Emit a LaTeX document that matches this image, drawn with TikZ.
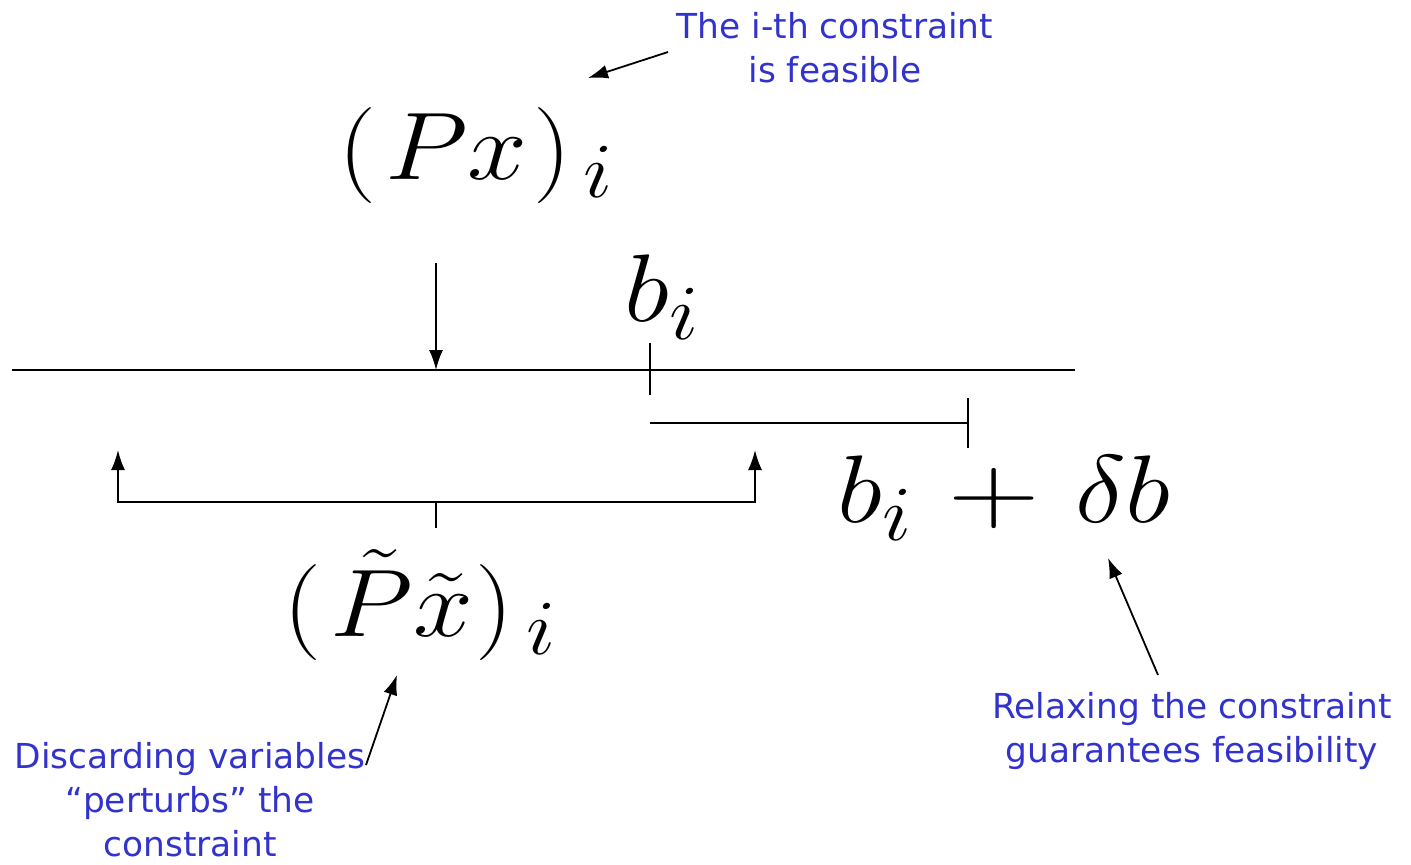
\RequirePackage{fix-cm}
\documentclass[tikz,border=0pt]{standalone}
\usepackage{graphicx}
\usepackage{fontspec}
\newfontfamily\notefont{DejaVu Sans}
\usetikzlibrary{arrows.meta}
\definecolor{noteblue}{RGB}{50,50,205}
\DeclareMathSizes{48}{48}{39}{30}
\tikzset{
  note/.style={text=noteblue,font=\notefont\fontsize{17.2}{22}\selectfont,align=center,inner sep=0pt},
  big/.style={font=\fontsize{48}{52}\selectfont,inner sep=0pt,xscale=1.12},
  ptr/.style={-{Latex[length=10pt,width=7pt]},line width=0.9pt}
}
\newcommand\gap[1]{\mkern#1mu}
\newcommand\bigplus{\mathbin{\scalebox{1.18}[1]{$+$}}}
\begin{document}
\begin{tikzpicture}[x=0.5pt,y=-0.5pt,line width=0.9pt]
\useasboundingbox (0,0) rectangle (1411,864);
% the line and b_i
\coordinate (L) at (12,370); \coordinate (R) at (1075,370);
\draw (L)--(R);
\node[big] (px) at (476,155) {$(\gap{1.5}Px\gap{1})_{\gap{2.5}i}$};
\coordinate (pxa) at (436,263); \coordinate (pxb) at (436,370);
\draw[ptr] (pxa)--(pxb);
\node[big] (bi) at (662,297) {$b_{i}$};
\coordinate (bitop) at (650,343); \coordinate (bibot) at (650,395);
\draw (bitop)--(bibot);
% the shift by delta b
\coordinate (da) at (650,423); \coordinate (db) at (968,423);
\draw (da)--(db); \draw (968,398)--(968,448);
\node[big] (bd) at (1004,498) {$b_{i}\gap{2}\bigplus\gap{2}\delta b$};
% the perturbed value
\coordinate (lt) at (118,450); \coordinate (lb) at (118,502);
\coordinate (rb) at (755,502); \coordinate (rt) at (755,450);
\draw[{Latex[length=10pt,width=7pt]}-{Latex[length=10pt,width=7pt]}] (lt)--(lb)--(rb)--(rt);
\draw (436,502)--(436,528);
\node[big] (ptx) at (420,605) {$(\gap{1.5}\tilde P\tilde x\gap{0.5})_{\gap{2.5}i}$};
% notes
\node[note] (n1) at (835,48) {The i-th constraint\\is feasible};
\coordinate (n1t) at (588,78);
\draw[ptr] (668,52)--(n1t);
\node[note] (n2) at (190,800) {Discarding variables\\“perturbs” the\\constraint};
\coordinate (n2t) at (397,675);
\draw[ptr] (366,765)--(n2t);
\node[note] (n3) at (1192,731) {Relaxing the constraint\\guarantees feasibility};
\coordinate (n3t) at (1108,558);
\draw[ptr] (1158,675)--(n3t);
\end{tikzpicture}
\end{document}
